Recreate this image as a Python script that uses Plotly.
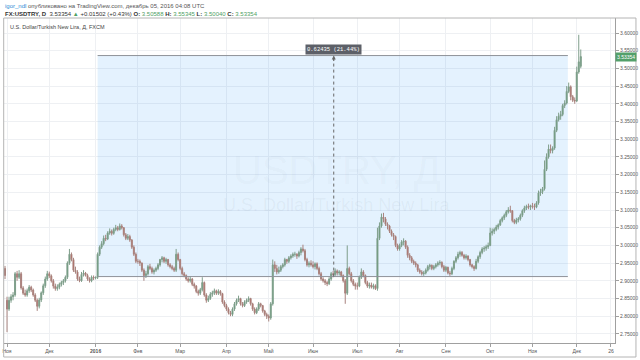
import pandas as pd
import plotly.graph_objects as go

# ---------------- data (daily bars, Oct 30 2015 .. Dec 05 2016) ----------------
opens = [
    2.935,
    2.845, 2.82, 2.845, 2.855, 2.86, 2.92, 2.91, 2.92, 2.88, 2.865, 2.86, 2.872, 2.882, 2.874, 2.86, 2.845, 2.828, 2.846, 2.866, 2.886, 2.905,
    2.92, 2.914, 2.9, 2.885, 2.878, 2.882, 2.89, 2.895, 2.9, 2.91, 2.95, 2.975, 2.96, 2.93, 2.925, 2.905, 2.9, 2.918, 2.922, 2.915, 2.905, 2.9, 2.91,
    2.908, 2.91, 2.975, 2.995, 3.005, 3.02, 3.018, 3.035, 3.04, 3.034, 3.045, 3.05, 3.045, 3.055, 3.05, 3.03, 3.02, 3.025, 3.015, 2.995, 2.975,
    2.955, 2.955, 2.95, 2.93, 2.915, 2.92, 2.94, 2.935, 2.925, 2.93, 2.935, 2.945, 2.96, 2.965, 2.955, 2.96, 2.945, 2.94, 2.935, 2.93, 2.975,
    2.96, 2.935, 2.92, 2.915, 2.905, 2.9, 2.905, 2.89, 2.885, 2.87, 2.865, 2.875, 2.895, 2.86, 2.845, 2.85, 2.862, 2.866, 2.872, 2.865, 2.87, 2.864, 2.84,
    2.83, 2.82, 2.81, 2.805, 2.82, 2.835, 2.845, 2.85, 2.835, 2.83, 2.84, 2.845, 2.85, 2.835, 2.82, 2.81, 2.82, 2.835, 2.83, 2.815, 2.805,
    2.8, 2.795, 2.835, 2.945, 2.935, 2.925, 2.93, 2.94, 2.945, 2.96, 2.955, 2.965, 2.97, 2.975, 2.975, 2.97, 2.98, 2.99, 2.985, 2.96, 2.945, 2.95,
    2.945, 2.94, 2.948, 2.935, 2.92, 2.905, 2.9, 2.895, 2.892, 2.905, 2.92, 2.918, 2.928, 2.922, 2.925, 2.915, 2.9, 2.865, 2.935, 2.92, 2.9, 2.89,
    2.885, 2.885, 2.91, 2.925, 2.915, 2.895, 2.885, 2.888, 2.882, 2.886, 2.878, 3.02, 3.055, 3.08, 3.075, 3.06, 3.055, 3.04, 3.03, 3.025, 3.0,
    2.99, 3.0, 3.01, 3.012, 2.995, 2.972, 2.965, 2.955, 2.95, 2.945, 2.93, 2.925, 2.92, 2.922, 2.93, 2.94, 2.944, 2.935, 2.94, 2.945, 2.95, 2.952, 2.94,
    2.93, 2.938, 2.922, 2.92, 2.935, 2.955, 2.965, 2.975, 2.98, 2.972, 2.965, 2.97, 2.96, 2.945, 2.94, 2.935, 2.955, 2.968, 2.98, 2.99, 2.992, 2.996,
    3.0, 3.035, 3.04, 3.045, 3.052, 3.058, 3.07, 3.078, 3.085, 3.095, 3.1, 3.098, 3.07, 3.065, 3.072, 3.075, 3.085, 3.098, 3.106, 3.11, 3.108,
    3.112, 3.11, 3.108, 3.12, 3.148, 3.152, 3.16, 3.215, 3.25, 3.272, 3.268, 3.275, 3.325, 3.355, 3.365, 3.37, 3.395, 3.402, 3.435, 3.448, 3.42, 3.41,
    3.408, 3.49, 3.50588,
]
highs = [
    2.942,
    2.855, 2.855, 2.862, 2.868, 2.925, 2.928, 2.93, 2.925, 2.885, 2.875, 2.878, 2.888, 2.886, 2.878, 2.865, 2.85, 2.852, 2.87, 2.892, 2.912, 2.928,
    2.926, 2.918, 2.905, 2.892, 2.89, 2.895, 2.9, 2.905, 2.915, 2.955, 2.99, 2.98, 2.965, 2.94, 2.93, 2.912, 2.925, 2.93, 2.925, 2.92, 2.91, 2.915, 2.915,
    2.912, 2.98, 3.0, 3.012, 3.028, 3.03, 3.04, 3.048, 3.045, 3.05, 3.058, 3.055, 3.062, 3.06, 3.052, 3.035, 3.032, 3.03, 3.018, 3.0, 2.98,
    2.962, 2.96, 2.952, 2.935, 2.928, 2.945, 2.948, 2.94, 2.935, 2.94, 2.95, 2.962, 2.97, 2.968, 2.965, 2.962, 2.95, 2.945, 2.94, 2.99, 2.98,
    2.962, 2.94, 2.925, 2.918, 2.91, 2.912, 2.908, 2.895, 2.888, 2.875, 2.88, 2.91, 2.898, 2.865, 2.858, 2.868, 2.872, 2.878, 2.875, 2.876, 2.874, 2.866, 2.845,
    2.835, 2.825, 2.815, 2.825, 2.84, 2.85, 2.858, 2.852, 2.84, 2.845, 2.85, 2.856, 2.852, 2.838, 2.825, 2.825, 2.84, 2.838, 2.832, 2.818, 2.81,
    2.805, 2.84, 2.96, 2.955, 2.945, 2.94, 2.945, 2.95, 2.965, 2.962, 2.97, 2.975, 2.98, 2.982, 2.978, 2.985, 2.995, 3.002, 2.99, 2.965, 2.955, 2.958,
    2.955, 2.952, 2.952, 2.94, 2.925, 2.91, 2.905, 2.9, 2.91, 2.925, 2.928, 2.935, 2.932, 2.93, 2.928, 2.918, 2.905, 3.0, 2.94, 2.925, 2.905, 2.895,
    2.895, 2.915, 2.935, 2.93, 2.918, 2.9, 2.895, 2.895, 2.892, 2.89, 3.05, 3.065, 3.09, 3.092, 3.08, 3.065, 3.058, 3.045, 3.035, 3.028, 3.005,
    3.005, 3.015, 3.02, 3.015, 3.0, 2.978, 2.97, 2.96, 2.955, 2.948, 2.935, 2.93, 2.928, 2.935, 2.945, 2.948, 2.946, 2.945, 2.95, 2.955, 2.958, 2.955, 2.945,
    2.942, 2.94, 2.928, 2.94, 2.958, 2.97, 2.982, 2.985, 2.984, 2.976, 2.975, 2.972, 2.962, 2.948, 2.944, 2.962, 2.972, 2.985, 2.995, 2.998, 3.002, 3.008,
    3.05, 3.048, 3.05, 3.058, 3.062, 3.075, 3.082, 3.09, 3.1, 3.108, 3.112, 3.1, 3.075, 3.078, 3.08, 3.09, 3.102, 3.112, 3.115, 3.118, 3.115,
    3.12, 3.118, 3.125, 3.155, 3.16, 3.165, 3.24, 3.26, 3.285, 3.285, 3.28, 3.335, 3.365, 3.375, 3.38, 3.4, 3.41, 3.45, 3.46, 3.452, 3.425, 3.418,
    3.505, 3.595, 3.55345,
]
lows = [
    2.905,
    2.755, 2.815, 2.838, 2.845, 2.855, 2.9, 2.905, 2.875, 2.86, 2.855, 2.855, 2.866, 2.868, 2.855, 2.84, 2.815, 2.822, 2.84, 2.86, 2.88, 2.9,
    2.908, 2.895, 2.878, 2.872, 2.872, 2.876, 2.884, 2.888, 2.895, 2.905, 2.945, 2.955, 2.925, 2.92, 2.9, 2.896, 2.897, 2.912, 2.912, 2.9, 2.895, 2.896, 2.902,
    2.904, 2.905, 2.97, 2.99, 3.0, 3.012, 3.015, 3.03, 3.028, 3.03, 3.04, 3.04, 3.042, 3.045, 3.025, 3.015, 3.015, 3.01, 2.99, 2.97, 2.95,
    2.948, 2.942, 2.925, 2.9, 2.908, 2.915, 2.93, 2.92, 2.918, 2.925, 2.93, 2.94, 2.952, 2.95, 2.948, 2.94, 2.935, 2.93, 2.925, 2.925, 2.955,
    2.93, 2.915, 2.91, 2.9, 2.895, 2.895, 2.885, 2.878, 2.865, 2.858, 2.86, 2.87, 2.855, 2.838, 2.84, 2.846, 2.855, 2.86, 2.86, 2.86, 2.858, 2.835, 2.825,
    2.815, 2.805, 2.8, 2.8, 2.815, 2.83, 2.84, 2.83, 2.825, 2.826, 2.835, 2.84, 2.83, 2.815, 2.805, 2.806, 2.815, 2.825, 2.81, 2.8, 2.792,
    2.785, 2.79, 2.83, 2.925, 2.918, 2.92, 2.925, 2.935, 2.94, 2.948, 2.95, 2.96, 2.965, 2.968, 2.962, 2.966, 2.972, 2.98, 2.955, 2.94, 2.938, 2.94,
    2.935, 2.932, 2.93, 2.915, 2.9, 2.895, 2.888, 2.885, 2.888, 2.9, 2.91, 2.912, 2.915, 2.915, 2.91, 2.895, 2.835, 2.86, 2.915, 2.895, 2.885, 2.875,
    2.875, 2.882, 2.905, 2.91, 2.89, 2.88, 2.878, 2.878, 2.876, 2.874, 2.872, 3.015, 3.05, 3.065, 3.055, 3.045, 3.035, 3.025, 3.015, 2.995, 2.985,
    2.985, 2.995, 3.0, 2.99, 2.965, 2.958, 2.95, 2.945, 2.938, 2.925, 2.92, 2.915, 2.914, 2.918, 2.926, 2.932, 2.93, 2.93, 2.935, 2.94, 2.944, 2.935, 2.925,
    2.925, 2.918, 2.914, 2.916, 2.93, 2.95, 2.96, 2.968, 2.968, 2.96, 2.96, 2.955, 2.94, 2.935, 2.928, 2.932, 2.95, 2.962, 2.975, 2.982, 2.985, 2.99,
    2.998, 3.028, 3.032, 3.04, 3.045, 3.055, 3.065, 3.072, 3.08, 3.09, 3.092, 3.065, 3.06, 3.06, 3.065, 3.07, 3.08, 3.092, 3.1, 3.102, 3.1,
    3.104, 3.1, 3.105, 3.115, 3.14, 3.145, 3.155, 3.21, 3.245, 3.26, 3.26, 3.27, 3.32, 3.35, 3.355, 3.365, 3.388, 3.398, 3.43, 3.41, 3.405, 3.4,
    3.405, 3.485, 3.5004,
]
closes = [
    2.915,
    2.82, 2.845, 2.855, 2.86, 2.92, 2.91, 2.92, 2.88, 2.865, 2.86, 2.872, 2.882, 2.874, 2.86, 2.845, 2.828, 2.846, 2.866, 2.886, 2.905, 2.92,
    2.914, 2.9, 2.885, 2.878, 2.882, 2.89, 2.895, 2.9, 2.91, 2.95, 2.975, 2.96, 2.93, 2.925, 2.905, 2.9, 2.918, 2.922, 2.915, 2.905, 2.9, 2.91, 2.908,
    2.91, 2.975, 2.995, 3.005, 3.02, 3.018, 3.035, 3.04, 3.034, 3.045, 3.05, 3.045, 3.055, 3.05, 3.03, 3.02, 3.025, 3.015, 2.995, 2.975, 2.955,
    2.955, 2.95, 2.93, 2.915, 2.92, 2.94, 2.935, 2.925, 2.93, 2.935, 2.945, 2.96, 2.965, 2.955, 2.96, 2.945, 2.94, 2.935, 2.93, 2.975, 2.96,
    2.935, 2.92, 2.915, 2.905, 2.9, 2.905, 2.89, 2.885, 2.87, 2.865, 2.875, 2.895, 2.86, 2.845, 2.85, 2.862, 2.866, 2.872, 2.865, 2.87, 2.864, 2.84, 2.83,
    2.82, 2.81, 2.805, 2.82, 2.835, 2.845, 2.85, 2.835, 2.83, 2.84, 2.845, 2.85, 2.835, 2.82, 2.81, 2.82, 2.835, 2.83, 2.815, 2.805, 2.8,
    2.795, 2.835, 2.945, 2.935, 2.925, 2.93, 2.94, 2.945, 2.96, 2.955, 2.965, 2.97, 2.975, 2.975, 2.97, 2.98, 2.99, 2.985, 2.96, 2.945, 2.95, 2.945,
    2.94, 2.948, 2.935, 2.92, 2.905, 2.9, 2.895, 2.892, 2.905, 2.92, 2.918, 2.928, 2.922, 2.925, 2.915, 2.9, 2.865, 2.935, 2.92, 2.9, 2.89, 2.885,
    2.885, 2.91, 2.925, 2.915, 2.895, 2.885, 2.888, 2.882, 2.886, 2.878, 3.02, 3.055, 3.08, 3.075, 3.06, 3.055, 3.04, 3.03, 3.025, 3.0, 2.99,
    3.0, 3.01, 3.012, 2.995, 2.972, 2.965, 2.955, 2.95, 2.945, 2.93, 2.925, 2.92, 2.922, 2.93, 2.94, 2.944, 2.935, 2.94, 2.945, 2.95, 2.952, 2.94, 2.93,
    2.938, 2.922, 2.92, 2.935, 2.955, 2.965, 2.975, 2.98, 2.972, 2.965, 2.97, 2.96, 2.945, 2.94, 2.935, 2.955, 2.968, 2.98, 2.99, 2.992, 2.996, 3.0,
    3.035, 3.04, 3.045, 3.052, 3.058, 3.07, 3.078, 3.085, 3.095, 3.1, 3.098, 3.07, 3.065, 3.072, 3.075, 3.085, 3.098, 3.106, 3.11, 3.108, 3.112,
    3.11, 3.108, 3.12, 3.148, 3.152, 3.16, 3.215, 3.25, 3.272, 3.268, 3.275, 3.325, 3.355, 3.365, 3.37, 3.395, 3.402, 3.435, 3.448, 3.42, 3.41, 3.408,
    3.49, 3.51852, 3.53354,
]

tick_dates = ["2015-11-02", "2015-12-01", "2016-01-01", "2016-02-01", "2016-03-01", "2016-04-01",
              "2016-05-02", "2016-06-01", "2016-07-01", "2016-08-01", "2016-09-01", "2016-10-03",
              "2016-11-01", "2016-12-01", "2016-12-26"]
tick_labels = ["Ноя", "Дек", "<b>2016</b>", "Фев", "Мар", "Апр", "Май", "Июн", "Июл", "Авг",
               "Сен", "Окт", "Ноя", "Дек", "26"]

range_low, range_high = 2.91196, 3.53631
range_start, range_end = "2016-01-04 12:00", "2016-11-25 02:00"
measure_x = "2016-06-15 19:00"
measure_text = "0.62435 (21.44%)"
last_price = 3.53354

# ---------------- figure ----------------
dates = pd.bdate_range("2015-10-30", "2016-12-05") + pd.Timedelta(hours=12)
assert len(dates) == len(closes) == len(opens) == len(highs) == len(lows), (len(dates), len(closes), len(opens), len(highs), len(lows))
half = pd.Timedelta(hours=12)
tickvals = [pd.Timestamp(d) + half for d in tick_dates]

FONT = "Liberation Sans, Arial, sans-serif"
fig = go.Figure()
fig.add_trace(go.Candlestick(
    x=dates, open=opens, high=highs, low=lows, close=closes,
    increasing=dict(line=dict(color="#7f9e8b", width=1), fillcolor="#4f9467"),
    decreasing=dict(line=dict(color="#a8837e", width=1), fillcolor="#b8473d"),
    whiskerwidth=0, showlegend=False, hoverinfo="skip",
))

shapes = []
# price range drawing
shapes.append(dict(type="rect", xref="x", yref="y", x0=range_start, x1=range_end,
                   y0=range_low, y1=range_high, fillcolor="rgba(33,150,243,0.12)",
                   line=dict(width=0), layer="between"))
for yv in (range_low, range_high):
    shapes.append(dict(type="line", xref="x", yref="y", x0=range_start, x1=range_end,
                       y0=yv, y1=yv, line=dict(color="#8e9299", width=1)))
shapes.append(dict(type="line", xref="x", yref="y", x0=measure_x, x1=measure_x,
                   y0=range_low, y1=range_high - 0.006, line=dict(color="#666", width=1, dash="dot")))
# outer frame
shapes.append(dict(type="rect", xref="paper", yref="paper", x0=-0.0005, x1=1.0343,
                   y0=-0.0431, y1=1.0, line=dict(color="#b4b4b4", width=1), fillcolor="rgba(0,0,0,0)"))

ann = []
ann.append(dict(x=measure_x, y=range_high, xref="x", yref="y", ax=0, ay=7, text="",
                showarrow=True, arrowhead=2, arrowsize=0.8, arrowwidth=1, arrowcolor="#666"))
ann.append(dict(x=measure_x, y=3.5535, xref="x", yref="y", text=measure_text, showarrow=False,
                bgcolor="#5d6068", borderpad=1, font=dict(family="Liberation Mono, monospace", size=5.5, color="white")))
# watermark
ann.append(dict(x=0.545, y=0.532, xref="paper", yref="paper", text="USDTRY, Д", showarrow=False,
                font=dict(family=FONT, size=40, color="rgba(110,120,140,0.055)")))
ann.append(dict(x=0.545, y=0.4246, xref="paper", yref="paper", text="U.S. Dollar/Turkish New Lira",
                showarrow=False, font=dict(family=FONT, size=18, color="rgba(110,120,140,0.075)")))
# chart title inside frame
ann.append(dict(x=0.0065, y=0.972, xref="paper", yref="paper", xanchor="left", yanchor="middle",
                text="U.S. Dollar/Turkish New Lira, Д, FXCM", showarrow=False,
                font=dict(family=FONT, size=5.5, color="#444")))
# header lines
ann.append(dict(x=-0.002, y=1.037, xref="paper", yref="paper", xanchor="left", yanchor="middle",
                text="<span style='color:#2d8bd6'>igor_ndl</span> опубликовано на TradingView.com, декабрь 05, 2016 04:08 UTC",
                showarrow=False, font=dict(family=FONT, size=6, color="#555")))
G = "#4fa064"
ann.append(dict(x=-0.002, y=1.012, xref="paper", yref="paper", xanchor="left", yanchor="middle",
                text=("<b>FX:USDTRY, D</b>  3.53354 <span style='color:%s'>▲</span> +0.01502 (+0.43%%) "
                      "<b>O:</b> <span style='color:%s'>3.50588</span> <b>H:</b> <span style='color:%s'>3.55345</span> "
                      "<b>L:</b> <span style='color:%s'>3.50040</span> <b>C:</b> <span style='color:%s'>3.53354</span>") % (G, G, G, G, G),
                showarrow=False, font=dict(family=FONT, size=6, color="#333")))
# last price label
ann.append(dict(x=1.0, y=last_price, xref="paper", yref="y", xanchor="left", yanchor="middle",
                text="3.53354", showarrow=False, bgcolor="#53a06a", borderpad=1,
                font=dict(family=FONT, size=5, color="white")))

fig.update_layout(
    width=640, height=360,
    margin=dict(l=2, r=25, t=18, b=17),
    paper_bgcolor="white", plot_bgcolor="white",
    shapes=shapes, annotations=ann,
    font=dict(family=FONT, size=5, color="#555"),
    xaxis=dict(type="date", range=["2015-10-30 00:00", "2016-12-28 12:00"],
               rangebreaks=[dict(bounds=["sat", "mon"])],
               tickvals=tickvals, ticktext=tick_labels, tickangle=0,
               showgrid=True, gridcolor="#eef0f3", gridwidth=1,
               showline=True, linecolor="#a0a0a0", linewidth=1,
               ticks="outside", ticklen=3, tickcolor="#a0a0a0",
               tickfont=dict(size=5, color="#555"), rangeslider=dict(visible=False),
               zeroline=False, fixedrange=True),
    yaxis=dict(side="right", range=[2.7243, 3.6424], tick0=2.75, dtick=0.05, tickformat=".5f",
               showgrid=True, gridcolor="#eef0f3", gridwidth=1,
               showline=True, linecolor="#a0a0a0", linewidth=1,
               ticks="outside", ticklen=3, tickcolor="#a0a0a0",
               tickfont=dict(size=5, color="#555"), zeroline=False, fixedrange=True),
)

fig.write_html("out.html", config={"displayModeBar": False})
